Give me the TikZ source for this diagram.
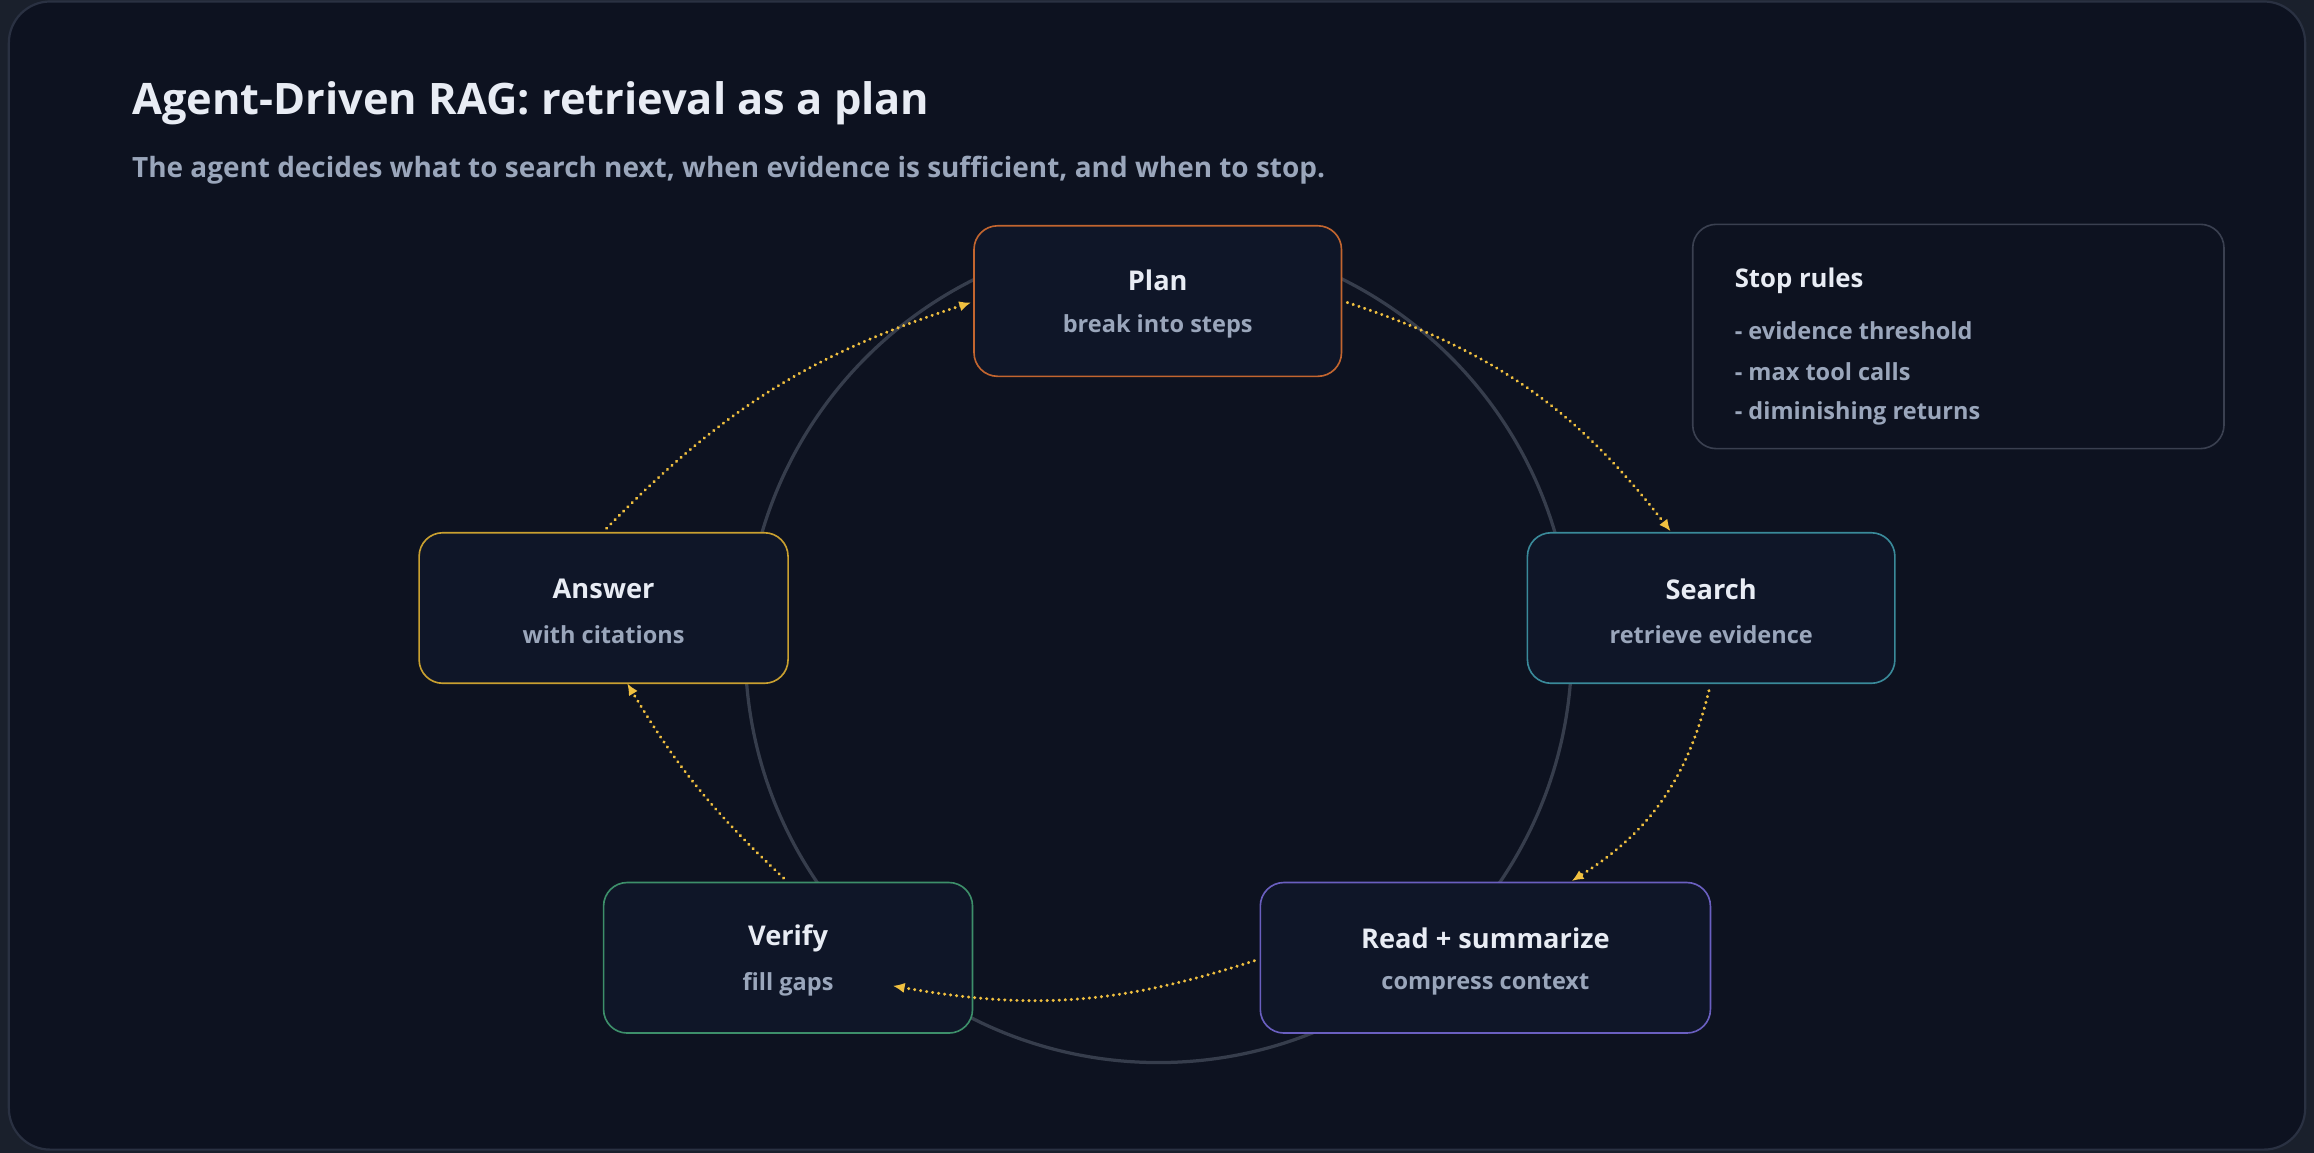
\documentclass[tikz,border=0pt]{standalone}
\usepackage{fontspec}
\setmainfont{Open Sans}
\usetikzlibrary{arrows.meta}
\definecolor{bg}{HTML}{0D1220}
\definecolor{outer}{HTML}{1A202C}
\definecolor{frame}{HTML}{2A3142}
\definecolor{boxbg}{HTML}{0F1628}
\definecolor{txt}{HTML}{E8ECF4}
\definecolor{sub}{HTML}{9AA6BB}
\definecolor{ring}{HTML}{363D4C}
\definecolor{arr}{HTML}{F0C040}
\definecolor{cplan}{HTML}{C2652F}
\definecolor{csearch}{HTML}{3A8A9A}
\definecolor{canswer}{HTML}{C9A030}
\definecolor{cverify}{HTML}{3D8F6A}
\definecolor{cread}{HTML}{6A5FC0}
\definecolor{cstop}{HTML}{3A4050}
\begin{document}
\begin{tikzpicture}[x=1bp,y=-1bp,
  box/.style={draw=#1,line width=1.1bp,fill=boxbg,rounded corners=16bp,inner sep=0pt},
  ttl/.style={text=txt,font=\fontsize{18.5}{22}\selectfont\bfseries},
  st/.style={text=sub,font=\fontsize{16}{19}\selectfont\bfseries},
  flow/.style={draw=arr,line width=2.2bp,dash pattern=on 0.1bp off 4bp,line cap=round,-{Latex[length=8bp,width=7bp]}}]
\fill[outer] (0,0) rectangle (1568,781);
\draw[frame,fill=bg,line width=1.5bp,rounded corners=28bp] (6,1) rectangle (1562,779);
\useasboundingbox (0,0) rectangle (1568,781);
\node[anchor=west,text=txt,font=\fontsize{29.5}{34}\selectfont\bfseries] (title) at (86,70) {Agent-Driven RAG: retrieval as a plan};
\node[anchor=west,text=sub,font=\fontsize{19}{23}\selectfont\bfseries] (subt) at (86,115) {The agent decides what to search next, when evidence is sufficient, and when to stop.};
\draw[ring,line width=2.2bp] (785,440) circle[radius=280];
% boxes
\node[box=cplan,minimum width=249bp,minimum height=102bp] (plan) at (784.5,204) {};
\node[ttl] at (784.5,190) {Plan};
\node[st] at (784.5,221) {break into steps};
\node[box=csearch,minimum width=249bp,minimum height=102bp] (search) at (1159.5,412) {};
\node[ttl] at (1159.5,399) {Search};
\node[st] at (1159.5,430) {retrieve evidence};
\node[box=canswer,minimum width=250bp,minimum height=102bp] (answer) at (409,412) {};
\node[ttl] at (409,399) {Answer};
\node[st] at (409,430) {with citations};
\node[box=cverify,minimum width=250bp,minimum height=102bp] (verify) at (534,649) {};
\node[ttl] at (534,636) {Verify};
\node[st] at (534,667) {fill gaps};
\node[box=cread,minimum width=305bp,minimum height=102bp] (read) at (1006.5,649) {};
\node[ttl] at (1006.5,636) {Read + summarize};
\node[st] at (1006.5,667) {compress context};
% stop rules
\node[box=cstop,fill=bg,minimum width=360bp,minimum height=152bp] (stop) at (1327,228) {};
\node[ttl,anchor=west,font=\fontsize{17.5}{22}\selectfont\bfseries] at (1172,190) {Stop rules};
\node[st,anchor=west] at (1172,224) {- evidence threshold};
\node[st,anchor=west] at (1172,252) {- max tool calls};
\node[st,anchor=west] at (1172,280) {- diminishing returns};
% arrows
\coordinate (p1) at (913,205);
\coordinate (s1) at (1132,360);
\coordinate (s2) at (1158,468);
\coordinate (r1) at (1065,597);
\coordinate (r2) at (850,651);
\coordinate (v1) at (605,668);
\coordinate (v2) at (531,595);
\coordinate (a1) at (425,463);
\coordinate (a2) at (411,358);
\coordinate (p2) at (658,205);
\draw[flow] (p1) to[bend left=17] (s1);
\draw[flow] (s2) to[bend left=22] (r1);
\draw[flow] (r2) to[bend left=14] (v1);
\draw[flow] (v2) to[bend left=8] (a1);
\draw[flow] (a2) to[bend left=14] (p2);
\end{tikzpicture}
\end{document}
